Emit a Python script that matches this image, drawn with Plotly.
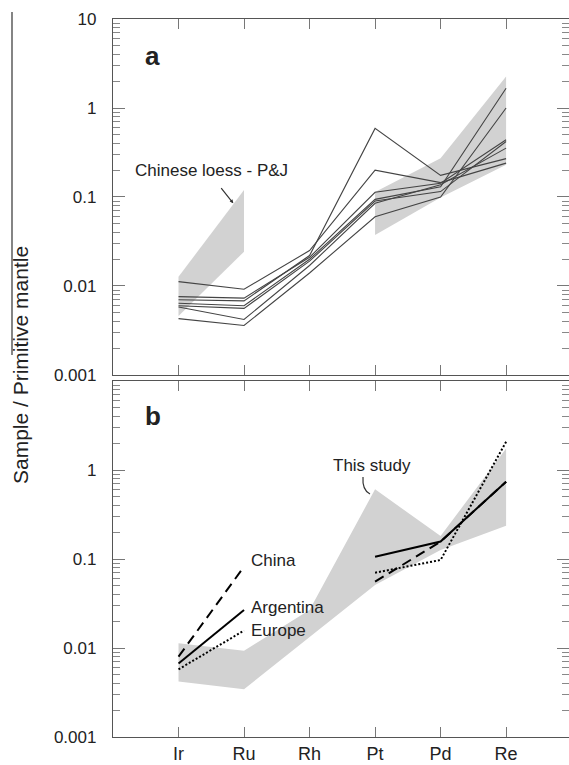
import plotly.graph_objects as go

elements = ["Ir", "Ru", "Rh", "Pt", "Pd", "Re"]
xpos = [1, 2, 3, 4, 5, 6]

# panel a: individual samples (this study)
samples = [
    [0.0070, 0.0068, 0.022, 0.59, 0.175, 0.27],
    [0.0112, 0.0092, 0.025, 0.20, 0.145, 0.24],
    [0.0076, 0.0073, 0.021, 0.113, 0.143, 0.44],
    [0.0064, 0.0060, 0.020, 0.094, 0.130, 1.67],
    [0.0060, 0.0056, 0.019, 0.090, 0.115, 0.42],
    [0.0058, 0.0042, 0.017, 0.085, 0.137, 0.354],
    [0.0043, 0.0036, 0.014, 0.060, 0.0996, 1.0],
]

# Chinese loess (P&J) envelope, two pieces
loess_x1 = ["Ir", "Ru"]
loess_hi1 = [0.0127, 0.12]
loess_lo1 = [0.0046, 0.0243]
loess_x2 = ["Pt", "Pd", "Re"]
loess_hi2 = [0.114, 0.273, 2.26]
loess_lo2 = [0.0375, 0.099, 0.23]

# panel b: this study envelope
study_hi = [0.0113, 0.0093, 0.0267, 0.607, 0.181, 1.75]
study_lo = [0.0042, 0.00344, 0.0134, 0.051, 0.126, 0.237]

china = [0.0080, 0.082, None, 0.0556, 0.157, 0.74]
argentina = [0.0067, 0.0267, None, 0.106, 0.157, 0.74]
europe = [0.00576, 0.0157, None, 0.0702, 0.0975, 2.08]

ytick_vals = [0.001, 0.01, 0.1, 1, 10]
ytick_top = ["0.001", "0.01", "0.1", "1", "10"]
ytick_bot = ["0.001", "0.01", "0.1", "1", ""]
minor_vals = [k * 10.0 ** e for e in range(-3, 1) for k in range(2, 10)]

FONT = "Liberation Sans, Arial, sans-serif"
GRAY = "#d2d2d2"
AXC = "#555555"

pos = dict(zip(elements, xpos))


def px_x(p):
    # pixel column -> paper x
    return (p - 113) / 456


def px_y(p):
    # pixel row -> paper y
    return (737 - p) / 718


def band(xs, hi, lo, xa, ya):
    px = [pos[e] for e in xs]
    return go.Scatter(
        x=px + px[::-1],
        y=hi + lo[::-1],
        fill="toself",
        fillcolor=GRAY,
        line=dict(width=0),
        mode="lines",
        hoverinfo="skip",
        showlegend=False,
        xaxis=xa,
        yaxis=ya,
    )


traces = [
    band(loess_x1, loess_hi1, loess_lo1, "x", "y"),
    band(loess_x2, loess_hi2, loess_lo2, "x", "y"),
    band(elements, study_hi, study_lo, "x2", "y2"),
]

for s in samples:
    traces.append(
        go.Scatter(
            x=xpos, y=s, mode="lines",
            line=dict(color="#444444", width=1.1),
            showlegend=False, xaxis="x", yaxis="y",
        )
    )

for vals, dash in [(china, "10px,6px"), (argentina, "solid"), (europe, "2px,2px")]:
    traces.append(
        go.Scatter(
            x=xpos, y=vals, mode="lines",
            line=dict(color="black", width=2, dash=dash),
            connectgaps=False, showlegend=False, xaxis="x2", yaxis="y2",
        )
    )


def xax(show_labels, anchor):
    return dict(
        range=[0, 6.96], anchor=anchor, tickmode="array", tickvals=xpos,
        ticktext=elements if show_labels else [""] * 6,
        ticks="inside", ticklen=10, tickcolor="#777", tickwidth=1,
        showline=True, linecolor=AXC, linewidth=1.3, mirror="ticks",
        showgrid=False, zeroline=False,
        tickfont=dict(family=FONT, size=18, color="#222"),
    )


def yax(domain, labels, anchor):
    return dict(
        type="log", range=[-3, 1], domain=domain, anchor=anchor,
        tickmode="array", tickvals=ytick_vals, ticktext=labels,
        ticks="inside", ticklen=12, tickcolor="#777", tickwidth=1,
        minor=dict(ticks="inside", ticklen=7, tickcolor="#888", tickmode="array", tickvals=minor_vals),
        showline=True, linecolor=AXC, linewidth=1.3, mirror="ticks",
        showgrid=False, zeroline=False, ticklabelstandoff=12,
        tickfont=dict(family=FONT, size=17, color="#222"),
    )


def label(text, x, y, size=17, anchor="center", **kw):
    return dict(text=text, xref="paper", yref="paper", x=px_x(x), y=px_y(y),
                xanchor=anchor, yanchor="middle", showarrow=False,
                font=dict(family=FONT, size=size, color="#222"), **kw)


ann = [
    label("<b>a</b>", 152, 56, size=26),
    label("<b>b</b>", 153, 416, size=26),
    label("Chinese loess - P&J", 211.5, 170),
    dict(text="", xref="paper", yref="paper", axref="pixel", ayref="pixel",
         x=px_x(233.3), y=px_y(203.3), ax=-13.3, ay=-16.6,
         showarrow=True, arrowhead=2, arrowsize=0.6, arrowwidth=1.2, arrowcolor="#333"),
    label("This study", 371.5, 466),
    label("China", 249, 560, anchor="left"),
    label("Argentina", 249, 607, anchor="left"),
    label("Europe", 249, 630, anchor="left"),
    label("Sample / Primitive mantle", 20, 365, size=21, textangle=-90),
]

shapes = [
    # leader for "This study"
    dict(type="path", xref="paper", yref="paper",
         path="M %f,%f Q %f,%f %f,%f" % (
             px_x(363), px_y(477), px_x(362), px_y(490), px_x(370), px_y(494)),
         line=dict(color="#333", width=1.2)),
    # stray vertical rule left of the axis title
    dict(type="line", xref="paper", yref="paper",
         x0=px_x(12), x1=px_x(12), y0=px_y(12), y1=px_y(355),
         line=dict(color="#333", width=1.2)),
]

layout = go.Layout(
    width=569, height=765,
    margin=dict(l=113, r=0, t=19, b=28),
    paper_bgcolor="white", plot_bgcolor="white",
    xaxis=xax(False, "y"),
    yaxis=yax([0.5042, 1], ytick_top, "x"),
    xaxis2=xax(True, "y2"),
    yaxis2=yax([0, 0.4958], ytick_bot, "x2"),
    annotations=ann, shapes=shapes,
    showlegend=False,
)

fig = go.Figure(data=traces, layout=layout)
fig.write_html(
    "out.html",
    config={"displayModeBar": False},
    post_script="document.body.style.margin='0px';",
)
